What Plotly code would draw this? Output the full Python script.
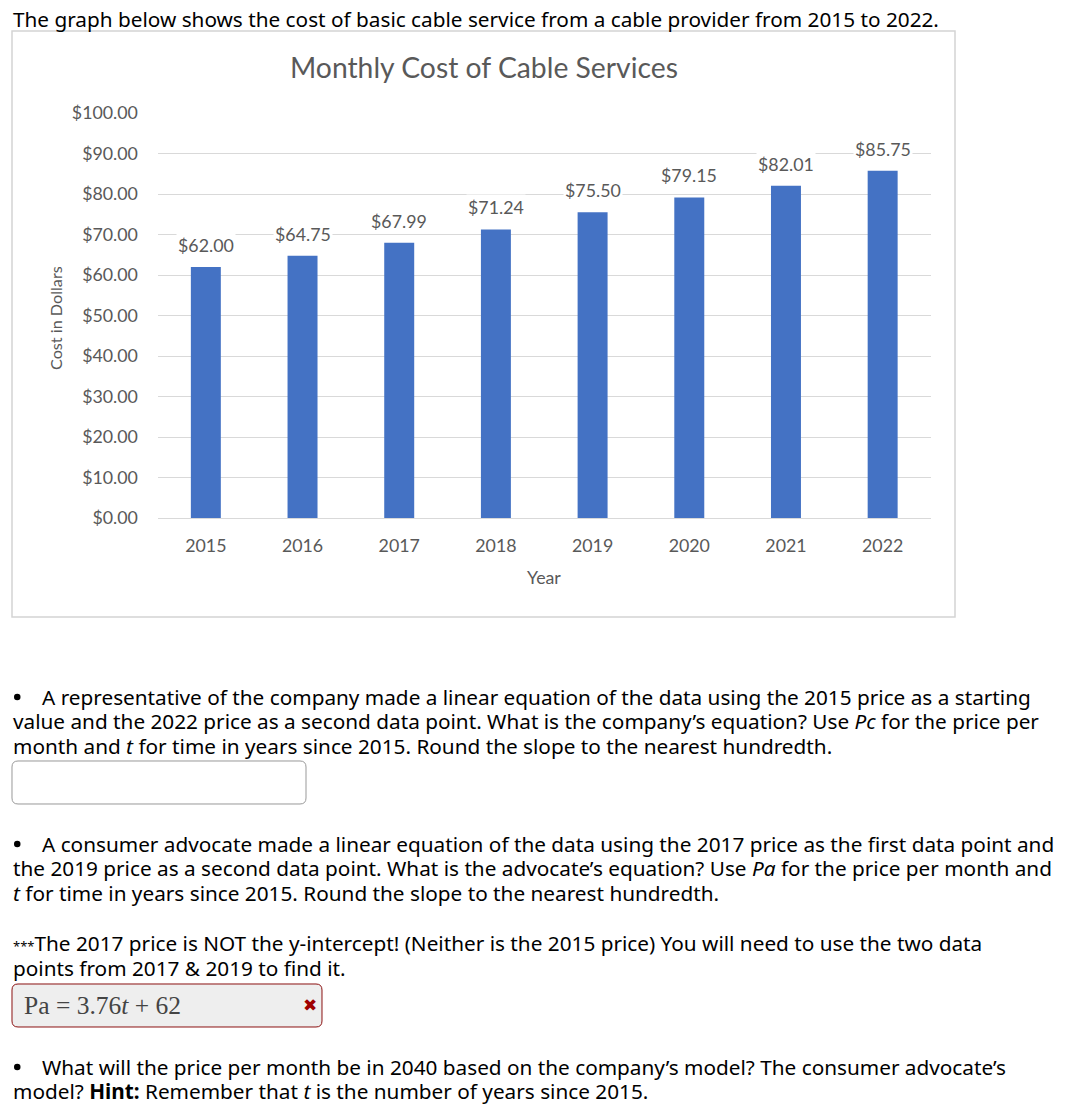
import plotly.graph_objects as go

W, H = 1074, 1104

years = ["2015", "2016", "2017", "2018", "2019", "2020", "2021", "2022"]
costs = [62.00, 64.75, 67.99, 71.24, 75.50, 79.15, 82.01, 85.75]
y_ticks = [0, 10, 20, 30, 40, 50, 60, 70, 80, 90, 100]

chart_title = "Monthly Cost of Cable Services"
y_title = "Cost in Dollars"
x_title = "Year"

header = "The graph below shows the cost of basic cable service from a cable provider from 2015 to 2022."
page_lines = [
    (697, True, "A representative of the company made a linear equation of the data using the 2015 price as a starting"),
    (721, False, "value and the 2022 price as a second data point. What is the company’s equation? Use <i>Pc</i> for the price per"),
    (746, False, "month and <i>t</i> for time in years since 2015. Round the slope to the nearest hundredth."),
    (844, True, "A consumer advocate made a linear equation of the data using the 2017 price as the first data point and"),
    (868, False, "the 2019 price as a second data point. What is the advocate’s equation? Use <i>Pa</i> for the price per month and"),
    (893, False, "<i>t</i> for time in years since 2015. Round the slope to the nearest hundredth."),
    (943, False, "<span style='font-size:13px'>***</span>The 2017 price is NOT the y-intercept! (Neither is the 2015 price) You will need to use the two data"),
    (968, False, "points from 2017 &amp; 2019 to find it."),
    (1067, True, "What will the price per month be in 2040 based on the company’s model? The consumer advocate’s"),
    (1091, False, "model? <b>Hint:</b> Remember that <i>t</i> is the number of years since 2015."),
]
answer_text = "Pa = 3.76<i>t</i> + 62"

PAGE_FONT = "Noto Sans"
PAGE_SIZE = 20.75
CHART_FONT = "Lato"
GRAY = "#595959"


def px(x):
    return x / W


def py(y):
    return 1 - y / H


def rounded(x0, y0, x1, y1, r):
    pts = [
        ("M", x0 + r, y0), ("L", x1 - r, y0), ("Q", x1, y0, x1, y0 + r),
        ("L", x1, y1 - r), ("Q", x1, y1, x1 - r, y1), ("L", x0 + r, y1),
        ("Q", x0, y1, x0, y1 - r), ("L", x0, y0 + r), ("Q", x0, y0, x0 + r, y0),
    ]
    s = ""
    for p in pts:
        if p[0] == "Q":
            s += f"Q{px(p[1]):.5f},{py(p[2]):.5f} {px(p[3]):.5f},{py(p[4]):.5f} "
        else:
            s += f"{p[0]}{px(p[1]):.5f},{py(p[2]):.5f} "
    return s + "Z"


def page_ann(x, y, text, size=PAGE_SIZE, family=PAGE_FONT, color="black",
             xanchor="left", **kw):
    return dict(x=px(x), y=py(y), xref="paper", yref="paper", text=text,
                showarrow=False, xanchor=xanchor, yanchor="middle",
                font=dict(family=family, size=size, color=color), **kw)


fig = go.Figure()
fig.add_trace(go.Bar(
    x=years, y=costs, marker=dict(color="#4472C4", line=dict(width=0)),
    hoverinfo="skip",
))

annotations = []
# data labels: category index (position in the years list) on the category axis
for i, c in enumerate(costs):
    annotations.append(dict(
        x=i, y=c, xref="x", yref="y", text=f"${c:.2f}", showarrow=False,
        xanchor="center", yanchor="middle",
        yshift=22, bgcolor="white", borderpad=1,
        font=dict(family=CHART_FONT, size=17.8, color=GRAY),
    ))

annotations.append(page_ann(484, 67, chart_title, size=28.3, family=CHART_FONT,
                            color=GRAY, xanchor="center"))
annotations.append(page_ann(55, 318, y_title, size=16.2, family=CHART_FONT,
                            color=GRAY, xanchor="center", textangle=-90))
annotations.append(page_ann(544, 577, x_title, size=17.8, family=CHART_FONT,
                            color=GRAY, xanchor="center"))

shapes = [
    dict(type="rect", xref="paper", yref="paper", x0=px(12), x1=px(955),
         y0=py(31), y1=py(617), line=dict(color="#d4d4d4", width=1.5),
         fillcolor="rgba(0,0,0,0)", layer="below"),
    dict(type="path", xref="paper", yref="paper", path=rounded(12, 761, 306, 804, 6),
         line=dict(color="#999999", width=1), fillcolor="white"),
    dict(type="path", xref="paper", yref="paper", path=rounded(12, 984, 322, 1027, 6),
         line=dict(color="#8b1010", width=1), fillcolor="#eeeeee"),
]

annotations.append(page_ann(11, 19, header))
for yy, bullet, txt in page_lines:
    if bullet:
        shapes.append(dict(type="circle", xref="paper", yref="paper",
                           x0=px(14), x1=px(20.5), y0=py(yy - 3.2), y1=py(yy + 3.2),
                           fillcolor="black", line=dict(width=0)))
        annotations.append(page_ann(40, yy, txt))
    else:
        annotations.append(page_ann(11, yy, txt))

annotations.append(page_ann(22, 1005, answer_text, size=25.5,
                            family="Liberation Serif", color="#444444"))
annotations.append(page_ann(310, 1005, "✖", size=17, family="DejaVu Sans",
                            color="#a00000", xanchor="center"))

fig.update_layout(
    template="none",
    width=W, height=H, margin=dict(l=0, r=0, t=0, b=0, pad=0, autoexpand=False),
    paper_bgcolor="white", plot_bgcolor="white",
    showlegend=False, bargap=0.69,
    annotations=annotations, shapes=shapes,
    xaxis=dict(domain=[px(157.5), px(931)], type="category", automargin=False,
               range=[-0.5, len(years) - 0.5],
               showgrid=False, showline=True, linecolor="#d9d9d9", linewidth=1,
               zeroline=False,
               ticks="outside", ticklen=12, tickcolor="rgba(0,0,0,0)",
               tickfont=dict(family=CHART_FONT, size=17.8, color=GRAY)),
    yaxis=dict(domain=[py(518), py(113)], range=[0, 100], automargin=False,
               tickvals=y_ticks, ticktext=[f"${v:.2f}" for v in y_ticks],
               showgrid=True, gridcolor="#d9d9d9", gridwidth=1,
               zeroline=False, showline=False,
               ticks="outside", ticklen=15, tickcolor="rgba(0,0,0,0)",
               tickfont=dict(family=CHART_FONT, size=17.8, color=GRAY)),
)

fig.write_html(
    "out.html",
    config={"displayModeBar": False},
    post_script="document.body.style.margin='0';document.body.style.overflow='hidden';",
)
